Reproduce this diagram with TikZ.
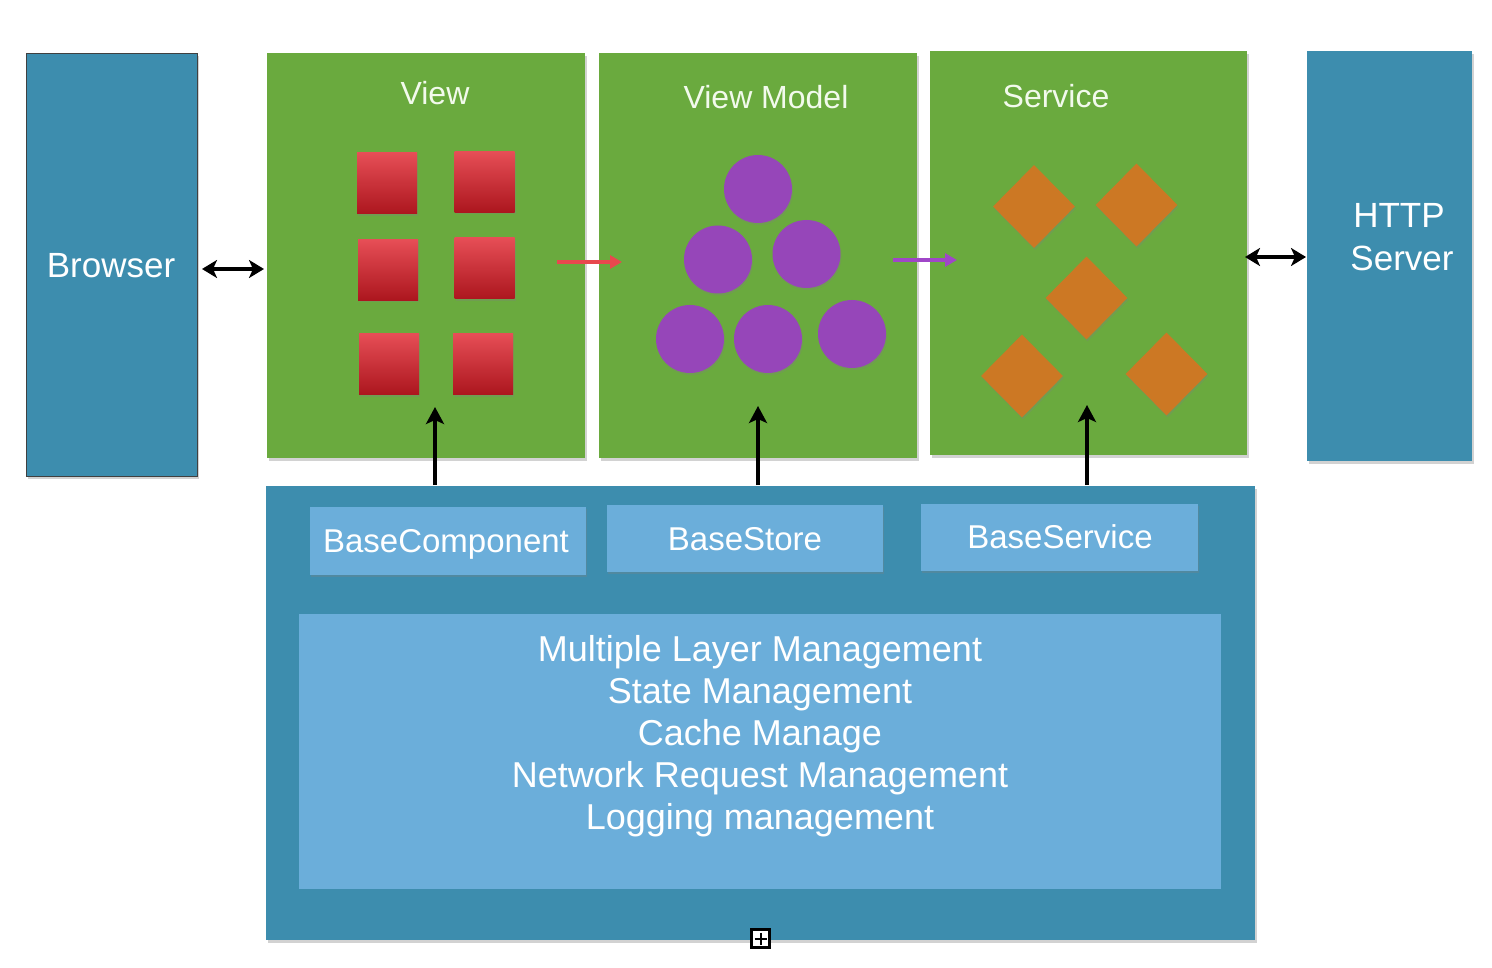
\documentclass[tikz,border=0pt]{standalone}
\usepackage{fontspec}
\setmainfont{Liberation Sans}
\usetikzlibrary{shapes.geometric,arrows.meta,shadows,calc}
\definecolor{tealbl}{RGB}{61,141,174}
\definecolor{grass}{RGB}{106,170,62}
\definecolor{lightbl}{RGB}{107,174,218}
\definecolor{redtop}{RGB}{230,78,86}
\definecolor{redbot}{RGB}{172,22,30}
\definecolor{violet}{RGB}{150,70,185}
\definecolor{orangec}{RGB}{204,120,36}
\definecolor{redarrow}{RGB}{232,72,78}
\definecolor{purplearrow}{RGB}{160,70,200}
\definecolor{titletext}{RGB}{242,250,236}
\tikzset{
  box/.style={rectangle, inner sep=0pt, outer sep=0pt, draw=none},
  softshadow/.style={drop shadow={opacity=0.35, shadow xshift=1.5pt, shadow yshift=-3pt}},
  bluepanel/.style={box, fill=tealbl, softshadow},
  greenpanel/.style={box, fill=grass, softshadow},
  basebox/.style={box, fill=lightbl, minimum height=67pt, drop shadow={opacity=0.3, shadow xshift=1pt, shadow yshift=-2pt}},
  lbl/.style={anchor=base, text=white, inner sep=0pt},
  ttl/.style={anchor=base, text=titletext, inner sep=0pt, font=\fontsize{32}{38}\selectfont},
  bigtxt/.style={lbl, font=\fontsize{36}{42}\selectfont},
  basetxt/.style={lbl, font=\fontsize{33}{38}\selectfont},
  redsq/.style={rectangle, inner sep=0pt, minimum width=60pt, minimum height=61pt, top color=redtop, bottom color=redbot, draw=none, drop shadow={opacity=0.3, shadow xshift=1pt, shadow yshift=-2pt}},
  vdot/.style={circle, inner sep=0pt, minimum size=68pt, fill=violet, draw=none, drop shadow={opacity=0.3, shadow xshift=1pt, shadow yshift=-2pt}},
  odia/.style={diamond, inner sep=0pt, minimum width=82pt, minimum height=83pt, fill=orangec, draw=none, drop shadow={opacity=0.3, shadow xshift=1pt, shadow yshift=-2pt}},
  dblarrow/.style={line width=3.6pt, black, {Stealth[length=15pt,width=18pt,inset=4pt]}-{Stealth[length=15pt,width=18pt,inset=4pt]}},
  uparrow/.style={line width=3.8pt, black, -{Stealth[length=17pt,width=18pt,inset=4pt]}},
  flowarrow/.style={line width=3.6pt, -{Triangle[length=12pt,width=13pt]}},
}
\begin{document}
\begin{tikzpicture}[x=1pt,y=-1pt]
\useasboundingbox (0,0) rectangle (1492,968);
\fill[white] (0,0) rectangle (1492,968);

% outer blocks
\node[bluepanel, draw=black!75, line width=0.8pt, minimum width=171pt, minimum height=423pt] (browser) at (111.5,264.5) {};
\node[greenpanel, minimum width=318pt, minimum height=405pt] (view) at (426,255.5) {};
\node[greenpanel, minimum width=318pt, minimum height=405pt] (vm) at (758,255.5) {};
\node[greenpanel, minimum width=317pt, minimum height=404pt] (service) at (1088.5,253) {};
\node[bluepanel, minimum width=165pt, minimum height=410pt] (http) at (1389.5,256) {};
\node[bluepanel, minimum width=989pt, minimum height=454pt] (bottom) at (760.5,713) {};

% labels of the top blocks
\node[lbl, font=\fontsize{35}{40}\selectfont] (browserlbl) at (111,278) {Browser};
\node[lbl, font=\fontsize{35}{40}\selectfont] (httplbl) at (1399,228) {HTTP};
\node[lbl, font=\fontsize{35}{40}\selectfont] (serverlbl) at (1402,271) {Server};
\node[ttl] (viewlbl) at (435,105) {View};
\node[ttl] (vmlbl) at (766,109) {View Model};
\node[ttl] (servicelbl) at (1056,108) {Service};

% red squares (View)
\node[redsq] (r1) at (387,183.5) {};
\node[redsq] (r2) at (484.5,182) {};
\node[redsq] (r3) at (388,270) {};
\node[redsq] (r4) at (484.5,268.5) {};
\node[redsq] (r5) at (389,364) {};
\node[redsq] (r6) at (483,364) {};

% purple circles (View Model)
\node[vdot] (c1) at (758,189) {};
\node[vdot] (c2) at (718,259.5) {};
\node[vdot] (c3) at (806.5,254) {};
\node[vdot] (c4) at (690,339) {};
\node[vdot] (c5) at (768,339) {};
\node[vdot] (c6) at (852,334) {};

% orange diamonds (Service)
\node[odia] (d1) at (1034,206.5) {};
\node[odia] (d2) at (1136.5,205) {};
\node[odia] (d3) at (1086.5,298) {};
\node[odia] (d4) at (1022,376) {};
\node[odia] (d5) at (1166.5,374) {};

% base layer
\node[basebox, minimum width=276pt, minimum height=68pt] (bcomp) at (448,541) {};
\node[basebox, minimum width=276pt] (bstore) at (745,538.5) {};
\node[basebox, minimum width=277pt] (bserv) at (1059.5,537.5) {};
\node[basetxt] (bcomplbl) at (446,552) {BaseComponent};
\node[basetxt] (bstorelbl) at (745,550) {BaseStore};
\node[basetxt] (bservlbl) at (1060,548) {BaseService};

\node[box, fill=lightbl, minimum width=922pt, minimum height=275pt] (inner) at (760,751.5) {};
\node[bigtxt] (m1) at (760,661) {Multiple Layer Management};
\node[bigtxt] (m2) at (760,703) {State Management};
\node[bigtxt] (m3) at (760,745) {Cache Manage};
\node[bigtxt] (m4) at (760,787) {Network Request Management};
\node[bigtxt] (m5) at (760,829) {Logging management};

% connectors
\draw[dblarrow] ($(browser.east)+(5,4.5)$) -- ($(view.west)+(-3,13.5)$);
\draw[dblarrow] ($(service.east)+(-2,4)$) -- ($(http.west)+(-1,1)$);
\draw[flowarrow, redarrow] ($(view.east)+(-28,6.5)$) -- ($(vm.west)+(23,6.5)$);
\draw[flowarrow, purplearrow] ($(vm.east)+(-24,4.5)$) -- ($(service.west)+(27,7)$);

\coordinate (vtip) at ($(view.south)+(9,-51)$);
\coordinate (vmtip) at ($(vm.south)+(0,-52)$);
\coordinate (stip) at ($(service.south)+(-1.5,-50)$);
\draw[uparrow] ($(vtip |- bottom.north)+(0,-1)$) -- (vtip);
\draw[uparrow] ($(vmtip |- bottom.north)+(0,-1)$) -- (vmtip);
\draw[uparrow] ($(stip |- bottom.north)+(0,-1)$) -- (stip);

% small expand box
\draw[line width=2.6pt, fill=white] (751.5,929.5) rectangle (769.5,947.5);
\draw[line width=2pt] (754.5,938.5) -- (766.5,938.5) (760.5,932.5) -- (760.5,944.5);
\end{tikzpicture}
\end{document}
